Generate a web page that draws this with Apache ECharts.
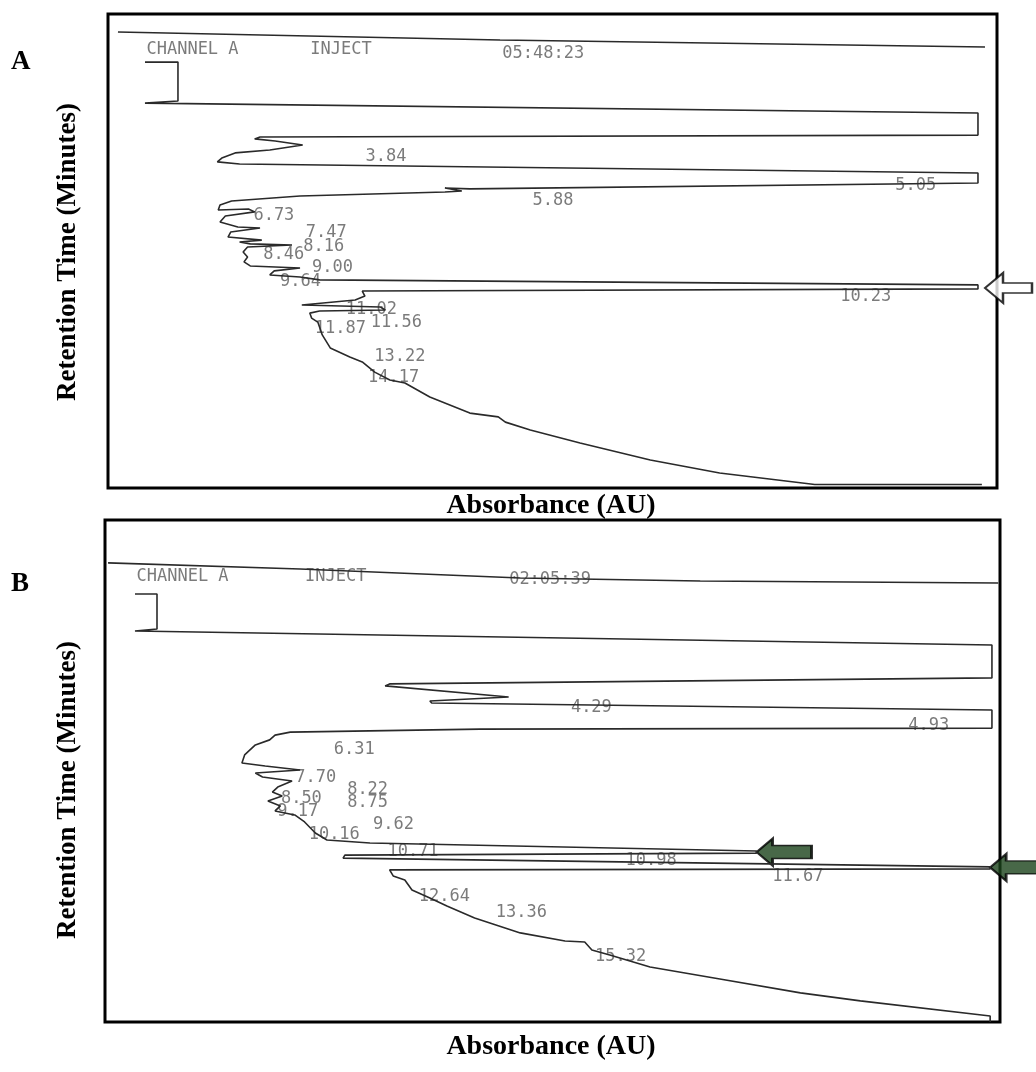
<!DOCTYPE html>
<html>
<head>
<meta charset="utf-8">
<script src="https://cdn.jsdelivr.net/npm/echarts@6/dist/echarts.min.js"></script>
<style>
html,body{margin:0;padding:0;background:#fff;}
#chart{width:1036px;height:1072px;}
</style>
</head>
<body>
<div id="chart"></div>
<script>
// ---------- DATA (absorbance as % of full scale, retention time in minutes) ----------
// Panel A
const headerTopA = [[1.12,-0.74],[44.1,-0.40],[98.65,-0.11]];
const traceA = [[4.16,0.53],[7.87,0.53],[7.87,2.17],[4.16,2.26],[97.86,2.68],[97.86,3.61],[17.1,3.69],[16.5,3.77],[18.8,3.86],[21.9,4.03],[18.2,4.24],[14.3,4.36],[12.8,4.58],[12.3,4.74],[14.8,4.83],[97.86,5.21],[97.86,5.63],[40.7,5.88],[37.9,5.84],[39.8,5.97],[37.9,6.01],[21.6,6.18],[13.9,6.39],[12.6,6.56],[12.4,6.77],[15.8,6.73],[16.5,6.85],[13.2,7.02],[12.6,7.28],[14.6,7.49],[17.1,7.53],[13.8,7.70],[13.5,7.91],[17.3,8.04],[14.8,8.12],[16.0,8.20],[20.7,8.25],[15.7,8.33],[15.2,8.54],[15.7,8.75],[15.3,8.96],[16.0,9.13],[21.6,9.22],[18.7,9.34],[18.2,9.51],[21.6,9.60],[23.8,9.72],[97.86,9.93],[97.86,10.10],[28.6,10.19],[28.9,10.40],[27.8,10.57],[21.8,10.78],[30.6,10.86],[31.2,10.99],[23.8,11.03],[22.7,11.12],[22.9,11.33],[23.6,11.50],[24.1,12.04],[25.0,12.59],[27.2,12.97],[28.6,13.18],[30.0,13.61],[31.7,13.94],[33.4,14.07],[36.2,14.66],[40.7,15.34],[43.9,15.50],[44.7,15.72],[47.5,16.05],[53.1,16.60],[61.0,17.32],[68.8,17.87],[79.5,18.35],[98.3,18.35]];
const labelTextA = ['CHANNEL A','INJECT','05:48:23','3.84','5.05','5.88','6.73','7.47','8.16','8.46','9.00','9.64','10.23','11.02','11.56','11.87','13.22','14.17'];
const labelAbsA  = [4.27,22.7,44.3,28.9,88.5,47.7,16.3,22.2,21.9,17.4,22.9,19.3,82.3,26.7,29.5,23.2,29.9,29.2];
const labelTimeA = [0.02,0.02,0.15,4.53,5.76,6.39,7.02,7.74,8.33,8.63,9.18,9.81,10.44,10.99,11.50,11.79,12.97,13.86];
const arrowA = [[98.65,10.06]];

// Panel B
const headerTopB = [[0.34,-0.79],[21.8,-0.55],[46.4,-0.19],[66.5,-0.07],[99.8,0.01]];
const traceB = [[3.35,0.45],[5.81,0.45],[5.81,1.84],[3.35,1.92],[99.1,2.48],[99.1,3.79],[31.8,4.03],[31.3,4.11],[45.1,4.55],[36.3,4.71],[36.5,4.79],[99.1,5.07],[99.1,5.79],[41.9,5.83],[20.7,5.95],[19.0,6.07],[18.4,6.26],[16.8,6.46],[15.6,6.86],[15.3,7.18],[17.9,7.30],[21.8,7.46],[16.8,7.58],[17.6,7.74],[20.9,7.90],[19.3,8.14],[18.7,8.34],[19.8,8.50],[18.2,8.70],[19.6,8.89],[19.0,9.09],[21.2,9.25],[22.3,9.53],[23.5,9.97],[24.8,10.25],[29.6,10.37],[72.8,10.69],[72.8,10.77],[26.8,10.85],[26.6,10.97],[98.9,11.32],[98.9,11.40],[31.8,11.44],[32.2,11.68],[33.5,11.84],[34.3,12.24],[36.3,12.56],[38.2,12.88],[41.3,13.36],[46.4,13.95],[51.4,14.27],[53.6,14.31],[54.4,14.63],[56.4,14.83],[60.9,15.31],[68.7,15.79],[77.7,16.34],[84.4,16.66],[98.9,17.26],[98.9,17.5]];
const labelTextB = ['CHANNEL A','INJECT','02:05:39','4.29','4.93','6.31','7.70','8.22','8.50','8.75','9.17','9.62','10.16','10.71','10.98','11.67','12.64','13.36','15.32'];
const labelAbsB  = [3.46,22.3,45.1,52.0,89.7,25.5,21.2,27.0,19.6,27.0,19.2,29.9,22.7,31.5,58.1,74.5,35.0,43.6,54.7];
const labelTimeB = [-0.23,-0.23,-0.11,4.99,5.71,6.66,7.78,8.26,8.58,8.77,9.13,9.65,10.05,10.73,11.05,11.72,12.52,13.16,14.91];
const arrowB = [[72.8,10.73],[98.9,11.34]];

// ---------- CHART ----------
const chart = echarts.init(document.getElementById('chart'), null, {renderer:'canvas'});
const traceStyle = {color:'#2a2a2a', width:1.6};
const monoFont = {fontFamily:'DejaVu Sans Mono', fontSize:17, color:'#5a5a5a'};

function labelData(texts, xs, ts){
  return texts.map((t,i)=>({name:t, value:[xs[i], ts[i]]}));
}
function hiddenAxis(extra){
  return Object.assign({type:'value', axisLine:{show:false}, axisTick:{show:false}, axisLabel:{show:false}, splitLine:{show:false}}, extra);
}
const arrowPathA = 'path://M0 15 L18 0 L18 10 L47 10 L47 20 L18 20 L18 30 Z';
const arrowPathB = 'path://M0 13.5 L16 0 L16 7 L55 7 L55 20 L16 20 L16 27 Z';

const option = {
  animation:false,
  backgroundColor:'#fff',
  grid:[
    {left:108, top:14, width:889, height:474, show:true, borderColor:'#000', borderWidth:3, backgroundColor:'transparent'},
    {left:105, top:520, width:895, height:502, show:true, borderColor:'#000', borderWidth:3, backgroundColor:'transparent'}
  ],
  xAxis:[
    hiddenAxis({gridIndex:0, min:0, max:100}),
    hiddenAxis({gridIndex:1, min:0, max:100})
  ],
  yAxis:[
    hiddenAxis({gridIndex:0, min:-1.5, max:18.5, inverse:true}),
    hiddenAxis({gridIndex:1, min:-2.5, max:17.5, inverse:true})
  ],
  series:[
    {type:'line', xAxisIndex:0, yAxisIndex:0, data:headerTopA, showSymbol:false, lineStyle:traceStyle, silent:true},
    {type:'line', xAxisIndex:0, yAxisIndex:0, data:traceA, showSymbol:false, lineStyle:traceStyle, silent:true},
    {type:'scatter', xAxisIndex:0, yAxisIndex:0, data:labelData(labelTextA,labelAbsA,labelTimeA), symbolSize:1, itemStyle:{color:'rgba(0,0,0,0)'},
      label:{show:true, position:'right', distance:0, formatter:p=>p.name, ...monoFont}, silent:true},
    {type:'scatter', xAxisIndex:0, yAxisIndex:0, data:arrowA, symbol:arrowPathA, symbolSize:[47,30], symbolOffset:['50%',0], clip:false,
      itemStyle:{color:'#fff', borderColor:'#000', borderWidth:2}, silent:true},

    {type:'line', xAxisIndex:1, yAxisIndex:1, data:headerTopB, showSymbol:false, lineStyle:traceStyle, silent:true},
    {type:'line', xAxisIndex:1, yAxisIndex:1, data:traceB, showSymbol:false, lineStyle:traceStyle, silent:true},
    {type:'scatter', xAxisIndex:1, yAxisIndex:1, data:labelData(labelTextB,labelAbsB,labelTimeB), symbolSize:1, itemStyle:{color:'rgba(0,0,0,0)'},
      label:{show:true, position:'right', distance:0, formatter:p=>p.name, ...monoFont}, silent:true},
    {type:'scatter', xAxisIndex:1, yAxisIndex:1, data:arrowB, symbol:arrowPathB, symbolSize:[55,27], symbolOffset:['50%',0], clip:false,
      itemStyle:{color:'#1a421a', borderColor:'#000', borderWidth:2}, silent:true}
  ],
  graphic:[
    {type:'text', left:11, top:49, style:{text:'A', font:'bold 27px "Liberation Serif"', fill:'#000'}},
    {type:'text', left:11, top:571, style:{text:'B', font:'bold 27px "Liberation Serif"', fill:'#000'}},
    {type:'text', x:551, y:506, style:{text:'Absorbance (AU)', font:'bold 28px "Liberation Serif"', fill:'#000', textAlign:'center', textVerticalAlign:'middle'}},
    {type:'text', x:551, y:1047, style:{text:'Absorbance (AU)', font:'bold 28px "Liberation Serif"', fill:'#000', textAlign:'center', textVerticalAlign:'middle'}},
    {type:'text', x:68, y:252, rotation:Math.PI/2, style:{text:'Retention Time (Minutes)', font:'bold 27px "Liberation Serif"', fill:'#000', textAlign:'center', textVerticalAlign:'middle'}},
    {type:'text', x:68, y:790, rotation:Math.PI/2, style:{text:'Retention Time (Minutes)', font:'bold 27px "Liberation Serif"', fill:'#000', textAlign:'center', textVerticalAlign:'middle'}}
  ]
};
chart.setOption(option);
</script>
</body>
</html>
